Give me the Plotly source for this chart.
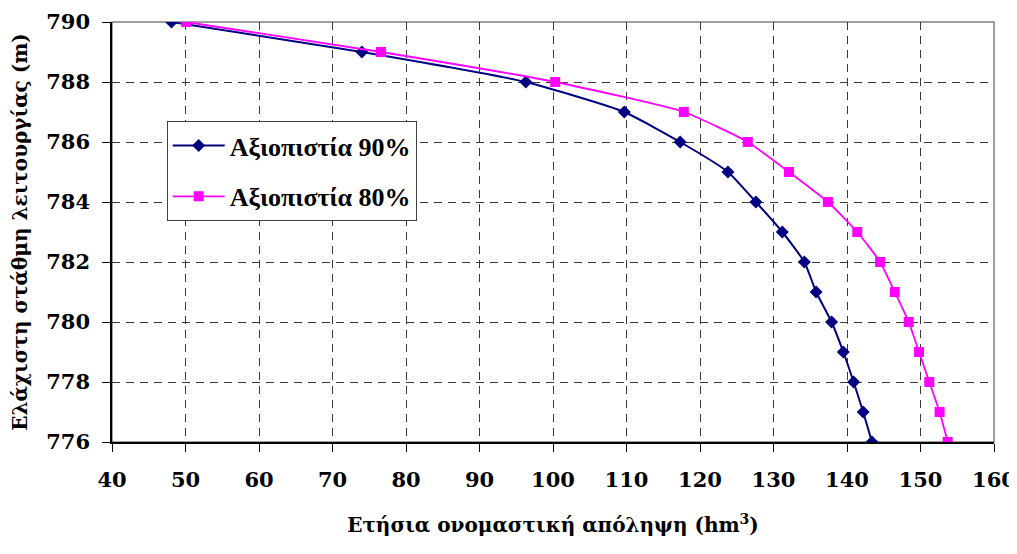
import plotly.graph_objects as go

levels = [790, 789, 788, 787, 786, 785, 784, 783, 782, 781, 780, 779, 778, 777, 776]
q90 = [48.1, 74.0, 96.3, 109.7, 117.3, 123.8, 127.6, 131.2, 134.2, 135.8, 137.9, 139.5, 140.9, 142.2, 143.4]
q80 = [50.1, 76.6, 100.3, 117.8, 126.5, 132.1, 137.4, 141.4, 144.5, 146.5, 148.4, 149.8, 151.2, 152.6, 153.7]
name90 = "Αξιοπιστία 90%"
name80 = "Αξιοπιστία 80%"
x_title = "Ετήσια ονομαστική απόληψη (hm<sup>3</sup>)"
y_title = "Ελάχιστη στάθμη λειτουργίας (m)"

FONT = "Liberation Serif"
AXFONT = "DejaVu Serif"

fig = go.Figure()
fig.add_trace(go.Scatter(
    x=q90, y=levels, mode="lines+markers", name="<b>" + name90 + "</b>", legendgroup="a",
    line=dict(color="#000080", width=2, shape="spline", smoothing=0.5),
    marker=dict(symbol="diamond", size=10, color="#000080"),
))
fig.add_trace(go.Scatter(
    x=q80, y=levels, mode="lines+markers", name="<b>" + name80 + "</b>", legendgroup="b",
    line=dict(color="#FF00FF", width=1.8, shape="spline", smoothing=0.5),
    marker=dict(symbol="square", size=10, color="#FF00FF"),
))

axis_common = dict(
    showgrid=True, gridcolor="#3a3a3a", gridwidth=1, griddash="8px,6px",
    showline=True, linecolor="black", linewidth=1.5,
    ticks="outside", tickcolor="black", ticklen=8, tickwidth=1,
    tickfont=dict(family=AXFONT, size=21, color="black"),
    zeroline=False, automargin=False,
)

fig.update_xaxes(
    range=[40, 160], tickmode="linear", tick0=40, dtick=10,
    tickprefix="<b>", ticksuffix="</b>", ticklabelstandoff=10,
    title=dict(text="<b>" + x_title + "</b>", font=dict(family=AXFONT, size=20, color="black"), standoff=27),
    **axis_common,
)
fig.update_yaxes(
    range=[776, 790], tickmode="linear", tick0=776, dtick=2,
    tickprefix="<b>", ticksuffix="</b>", ticklabelstandoff=8,
    title=dict(text="<b>" + y_title + "</b>", font=dict(family=AXFONT, size=20, color="black"), standoff=16),
    **axis_common,
)

fig.add_shape(type="rect", xref="paper", yref="paper", x0=0, y0=0, x1=1, y1=1,
              line=dict(color="#808080", width=1.5), layer="below")

fig.update_layout(
    width=1009, height=546,
    margin=dict(l=104, r=23, t=14, b=112, autoexpand=False),
    paper_bgcolor="white", plot_bgcolor="white",
    font=dict(family=FONT, color="black"),
    showlegend=True,
    legend=dict(
        x=0.062, y=0.764, xanchor="left", yanchor="top",
        bgcolor="white", bordercolor="#404040", borderwidth=1,
        font=dict(family=FONT, size=26, color="black"),
        tracegroupgap=14, itemwidth=52,
    ),
)

fig.write_html("out.html")
